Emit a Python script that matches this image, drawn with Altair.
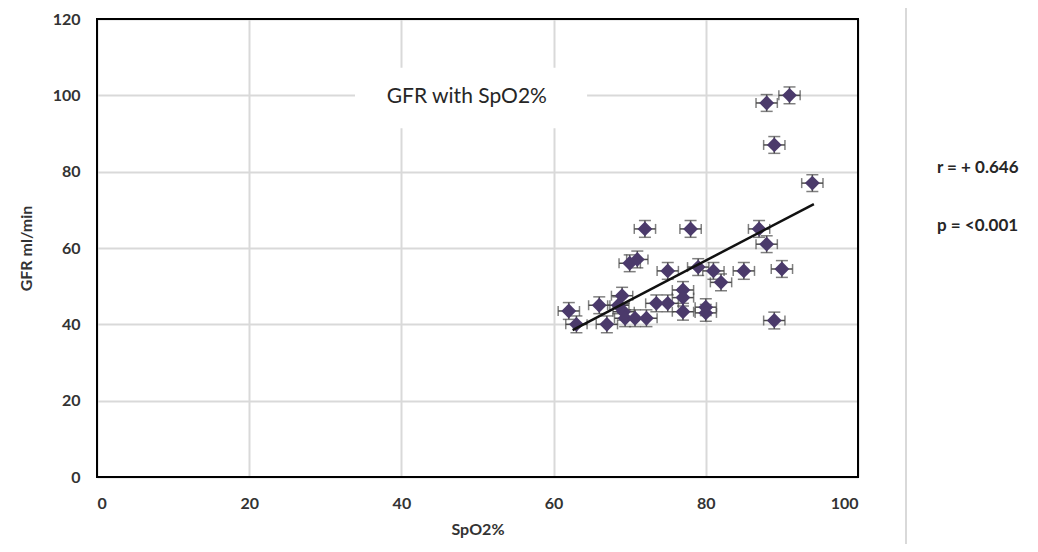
import altair as alt
import pandas as pd

# Data
spo2 = [88, 91, 89, 94, 72, 78, 87, 88, 70, 71, 75, 79, 81, 85, 90, 82, 77, 77,
        69, 62, 66, 73.5, 75, 80, 80, 77, 89, 63, 67, 68.5, 69.2, 69.4, 70.7, 72.2]
gfr = [98, 100, 87, 77, 65, 65, 65, 61, 56, 57, 54, 55, 54, 54, 54.5, 51, 49, 47,
       47.5, 43.5, 45, 45.5, 45.5, 44.5, 43, 43.3, 41, 40, 40, 45, 43.3, 41.6, 41.6, 41.6]
x_err = 1.4
y_err = 2.2

trend_x = [62.5, 94.2]
trend_y = [38.5, 71.5]

x_ticks = [0, 20, 40, 60, 80, 100]
y_ticks = [0, 20, 40, 60, 80, 100, 120]
x_domain = [0, 100]
y_domain = [0, 120]

title_text = "GFR with SpO2%"
title_box = {"x": 33.9, "x2": 64.4, "y": 91.4, "y2": 107.2}
title_pos = {"x": 48.6, "y": 99.6}
stats = ["r = + 0.646", "p = <0.001"]

FONT = "Lato"
TXT = "#333333"

df = pd.DataFrame({"x": spo2, "y": gfr})
df["xlo"] = df["x"] - x_err
df["xhi"] = df["x"] + x_err
df["ylo"] = df["y"] - y_err
df["yhi"] = df["y"] + y_err

xs = alt.Scale(domain=x_domain, nice=False)
ys = alt.Scale(domain=y_domain, nice=False)

xaxis = alt.Axis(values=x_ticks, title="SpO2%", grid=True, gridColor="#D9D9D9",
                 gridWidth=2, domain=False, ticks=False, labelPadding=18,
                 labelFont=FONT, labelFontSize=16, labelFontWeight="bold",
                 labelColor=TXT, titleFont=FONT, titleFontSize=16,
                 titleFontWeight="bold", titleColor=TXT, titlePadding=10)
yaxis = alt.Axis(values=y_ticks, title="GFR ml/min", grid=True, gridColor="#D9D9D9",
                 gridWidth=2, domain=False, ticks=False, labelPadding=17,
                 labelFont=FONT, labelFontSize=16, labelFontWeight="bold",
                 labelColor=TXT, titleFont=FONT, titleFontSize=16,
                 titleFontWeight="bold", titleColor=TXT, titlePadding=18)

base = alt.Chart(df)

grid_layer = base.mark_point(opacity=0).encode(
    x=alt.X("x:Q", scale=xs, axis=xaxis),
    y=alt.Y("y:Q", scale=ys, axis=yaxis),
)

box_df = pd.DataFrame([title_box])
box = alt.Chart(box_df).mark_rect(color="white").encode(
    x=alt.X("x:Q", scale=xs), x2="x2:Q",
    y=alt.Y("y:Q", scale=ys), y2="y2:Q",
)
title_df = pd.DataFrame([{"x": title_pos["x"], "y": title_pos["y"], "t": title_text}])
title = alt.Chart(title_df).mark_text(font=FONT, fontSize=21, color="#262626",
                                      align="center", baseline="middle").encode(
    x=alt.X("x:Q", scale=xs), y=alt.Y("y:Q", scale=ys), text="t:N")

ecol = "#4a4a4a"
hbar = base.mark_rule(color=ecol, strokeWidth=1.5).encode(
    x=alt.X("xlo:Q", scale=xs), x2="xhi:Q", y=alt.Y("y:Q", scale=ys))
vbar = base.mark_rule(color=ecol, strokeWidth=1.5).encode(
    x=alt.X("x:Q", scale=xs), y=alt.Y("ylo:Q", scale=ys), y2="yhi:Q")
cap_l = base.mark_tick(orient="vertical", color=ecol, size=10, thickness=1.5).encode(
    x=alt.X("xlo:Q", scale=xs), y=alt.Y("y:Q", scale=ys))
cap_r = base.mark_tick(orient="vertical", color=ecol, size=10, thickness=1.5).encode(
    x=alt.X("xhi:Q", scale=xs), y=alt.Y("y:Q", scale=ys))
cap_b = base.mark_tick(orient="horizontal", color=ecol, size=12, thickness=1.5).encode(
    x=alt.X("x:Q", scale=xs), y=alt.Y("ylo:Q", scale=ys))
cap_t = base.mark_tick(orient="horizontal", color=ecol, size=12, thickness=1.5).encode(
    x=alt.X("x:Q", scale=xs), y=alt.Y("yhi:Q", scale=ys))

pts = base.mark_point(shape="diamond", filled=True, size=220, color="#4B3A6B",
                      opacity=1).encode(
    x=alt.X("x:Q", scale=xs), y=alt.Y("y:Q", scale=ys))

tdf = pd.DataFrame({"x": trend_x, "y": trend_y})
trend = alt.Chart(tdf).mark_line(color="#111111", strokeWidth=2.5).encode(
    x=alt.X("x:Q", scale=xs), y=alt.Y("y:Q", scale=ys))

frame_df = pd.DataFrame([{"x": x_domain[0], "x2": x_domain[1],
                          "y": y_domain[0], "y2": y_domain[1]}])
frame = alt.Chart(frame_df).mark_rect(fill=None, fillOpacity=0, stroke="black",
                                      strokeWidth=2).encode(
    x=alt.X("x:Q", scale=xs), x2="x2:Q", y=alt.Y("y:Q", scale=ys), y2="y2:Q")

sep = alt.Chart(pd.DataFrame({"a": [0]})).mark_rule(color="#D9D9D9", strokeWidth=2).encode(
    x=alt.value(809), y=alt.value(-11), y2=alt.value(533))

sdf = pd.DataFrame({"t": stats, "py": [149, 207]})
stat_text = alt.Chart(sdf).mark_text(font=FONT, fontSize=17, fontWeight="bold",
                                     color="#262626", align="left",
                                     baseline="middle").encode(
    x=alt.value(840), y=alt.Y("py:Q", scale=None), text="t:N")

chart = alt.layer(grid_layer, box, title, hbar, vbar, cap_l, cap_r, cap_b, cap_t,
                  pts, trend, frame, sep, stat_text).properties(
    width=761, height=458,
    autosize=alt.AutoSizeParams(type="none"),
    padding={"left": 89, "top": 11, "right": 172, "bottom": 67},
).configure_view(stroke=None).configure(background="white")

chart.save("out.html", embed_options={"renderer": "svg", "actions": False})
